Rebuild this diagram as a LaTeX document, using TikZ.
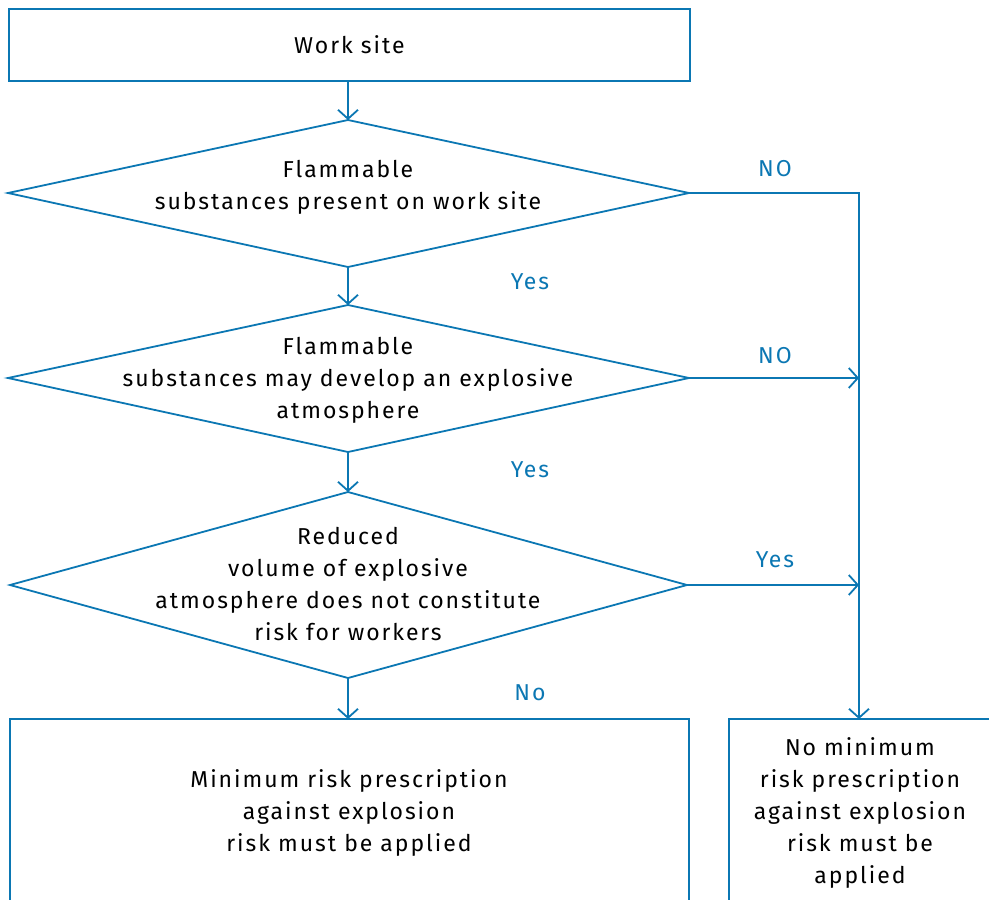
\documentclass[tikz,border=0pt]{standalone}
\usepackage{fontspec}
\setmainfont{Fira Sans}[LetterSpace=8.5]
\usetikzlibrary{arrows.meta}
\definecolor{fblue}{HTML}{0B77B3}
\begin{document}
\begin{tikzpicture}[x=1pt,y=-1pt,
  line/.style={draw=fblue,line width=1.8pt},
  arr/.style={line,-{Straight Barb[length=9pt,width=20pt,line width=1.8pt]}},
  txt/.style={align=center,inner sep=0pt,font=\fontsize{23}{32}\selectfont},
  lab/.style={inner sep=0pt,text=fblue,font=\fontsize{23}{26}\selectfont}]
\useasboundingbox (0,0) rectangle (989,900);
% Work site box
\node[line,minimum width=681pt,minimum height=72pt,inner sep=0pt,anchor=north west,txt] (ws) at (8,8) {};
\node[txt] (wst) at (ws.center) {Work site};
% Diamond 1
\coordinate (d1t) at (348,120);
\coordinate (d1l) at (8,193);
\coordinate (d1r) at (689,193);
\coordinate (d1b) at (348,267);
\draw[line] (d1t) -- (d1r) -- (d1b) -- (d1l) -- cycle;
\node[txt] (d1) at (348,187) {Flammable\\substances present on work site};
% Diamond 2
\coordinate (d2t) at (348,305);
\coordinate (d2l) at (8,378);
\coordinate (d2r) at (689,378);
\coordinate (d2b) at (348,452);
\draw[line] (d2t) -- (d2r) -- (d2b) -- (d2l) -- cycle;
\node[txt] (d2) at (348,380) {Flammable\\substances may develop an explosive\\atmosphere};
% Diamond 3
\coordinate (d3t) at (348,492);
\coordinate (d3l) at (10,585);
\coordinate (d3r) at (687,585);
\coordinate (d3b) at (348,678);
\draw[line] (d3t) -- (d3r) -- (d3b) -- (d3l) -- cycle;
\node[txt] (d3) at (348,584) {Reduced\\volume of explosive\\atmosphere does not constitute\\risk for workers};
% Bottom boxes (cut by page edge)
\coordinate (lb1) at (10,900);
\coordinate (lb2) at (10,719);
\coordinate (lb3) at (689,719);
\coordinate (lb4) at (689,900);
\draw[line] (lb1) -- (lb2) -- (lb3) -- (lb4);
\node[txt] (lbt) at (349,813) {Minimum risk prescription\\against explosion\\risk must be applied};
\coordinate (rb1) at (729,900);
\coordinate (rb2) at (729,719);
\coordinate (rb3) at (989,719);
\draw[line] (rb1) -- (rb2) -- (rb3);
\node[txt] (rbt) at (860,813) {No minimum\\risk prescription\\against explosion\\risk must be\\applied};
% Right bus
\coordinate (bus1) at (859,193);
\coordinate (bus2) at (859,378);
\coordinate (bus3) at (859,585);
\coordinate (busend) at (859,719);
% Connectors
\draw[arr] (ws.south -| d1t) -- (d1t);
\draw[arr] (d1b) -- (d2t);
\draw[arr] (d2b) -- (d3t);
\draw[arr] (d3b) -- (d3b |- lb2);
\draw[arr] (d1r) -- (bus1) -- (busend);
\draw[arr] (d2r) -- (bus2);
\draw[arr] (d3r) -- (bus3);
% Labels
\node[lab] (l1) at (775,169) {NO};
\node[lab] (l2) at (530,282) {Yes};
\node[lab] (l3) at (775,356) {NO};
\node[lab] (l4) at (530,470) {Yes};
\node[lab] (l5) at (775,560) {Yes};
\node[lab] (l6) at (530,693) {No};
\end{tikzpicture}
\end{document}
